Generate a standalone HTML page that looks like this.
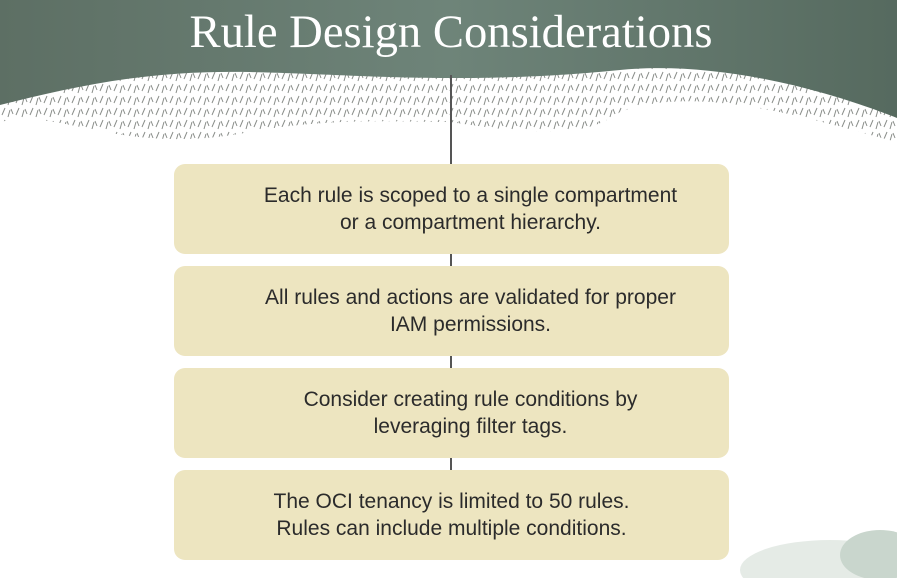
<!DOCTYPE html>
<html><head><meta charset="utf-8"><style>
body{margin:0;width:897px;height:578px;overflow:hidden;background:#fff;position:relative;font-family:"Liberation Sans",sans-serif}
.box{position:absolute;left:174px;width:555px;height:90px;background:#ede5c0;border-radius:11px;display:flex;align-items:center;justify-content:center;text-align:center;font-size:21px;line-height:27px;color:#2b2b2b;box-sizing:border-box}
.off{padding-left:38px}
</style></head><body>
<svg width="897" height="578" style="position:absolute;left:0;top:0">
<defs>
<pattern id="sp" width="14" height="12" patternUnits="userSpaceOnUse">
<path d="M2 9 L5 2 M8 11 L10 4 M11 3 L13 8" stroke="#8a8e8a" stroke-width="1"/>
</pattern>
<linearGradient id="g" x1="0" x2="1"><stop offset="0" stop-color="#5d6f64"/><stop offset="0.5" stop-color="#6e8479"/><stop offset="1" stop-color="#566a5f"/></linearGradient>
</defs>
<path d="M0 100 C60 85 120 135 250 110 C330 95 400 100 450 100 C520 110 580 120 620 90 C700 60 820 100 897 120 L897 0 L0 0 Z" fill="url(#sp)" transform="translate(0,22)"/>
<path d="M0 105 C80 85 150 70 250 72 C330 74 380 78 450 78 C520 78 570 75 620 70 C700 62 800 80 897 118 L897 0 L0 0 Z" fill="url(#g)"/>
<line x1="451" y1="75" x2="451" y2="164" stroke="#555" stroke-width="2"/>
<line x1="451" y1="254" x2="451" y2="470" stroke="#555" stroke-width="2"/>
<ellipse cx="830" cy="570" rx="90" ry="30" fill="#dfe6e0" opacity="0.8"/>
<ellipse cx="880" cy="555" rx="40" ry="25" fill="#c9d6cd"/>
<text x="451" y="47" text-anchor="middle" font-family="Liberation Serif,serif" font-size="47" fill="#fff" textLength="523" lengthAdjust="spacingAndGlyphs">Rule Design Considerations</text>
</svg>
<div class="box off" style="top:164px">Each rule is scoped to a single compartment<br>or a compartment hierarchy.</div>
<div class="box off" style="top:266px">All rules and actions are validated for proper<br>IAM permissions.</div>
<div class="box off" style="top:368px">Consider creating rule conditions by<br>leveraging filter tags.</div>
<div class="box" style="top:470px">The OCI tenancy is limited to 50 rules.<br>Rules can include multiple conditions.</div>
</body></html>
